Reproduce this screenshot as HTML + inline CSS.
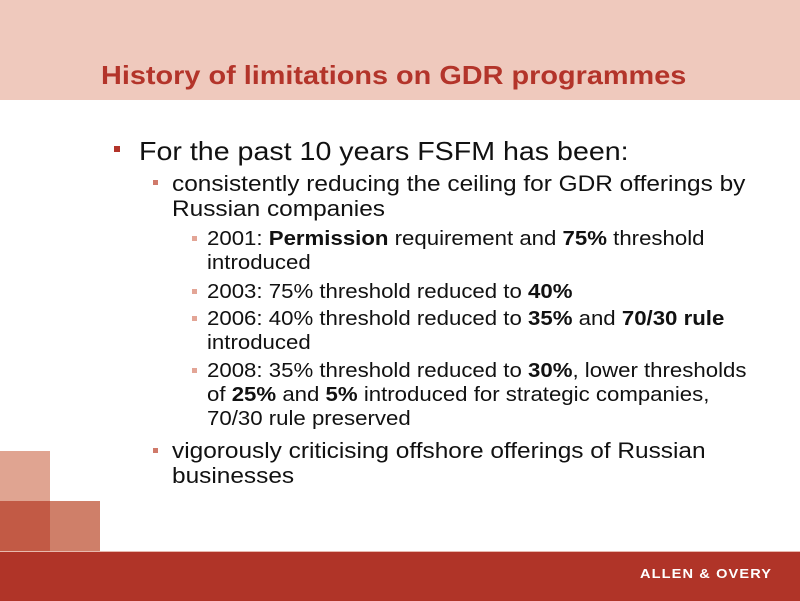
<!DOCTYPE html>
<html><head><meta charset="utf-8"><style>
body{margin:0;width:800px;height:600px;position:relative;overflow:hidden;background:#fff;font-family:"Liberation Sans",Arial,sans-serif;color:#111}
.hdr{position:absolute;left:0;top:0;width:800px;height:100px;background:#efc9bd}
.title{position:absolute;left:101px;top:60px;font-size:26px;font-weight:bold;color:#b3342a;white-space:nowrap;transform:scaleX(1.11);transform-origin:0 0}
.sq{position:absolute;width:50px;height:50px}
.foot{position:absolute;left:0;top:551px;width:800px;height:49px;background:#b03428;border-top:1px solid #e8b8ad}
.logo{position:absolute;left:640px;top:566px;color:#fff;font-size:13px;font-weight:bold;letter-spacing:1px;transform:scaleX(1.12);transform-origin:0 0}
.t{position:absolute;white-space:nowrap;transform:scaleX(1.1);transform-origin:0 0}
.b{position:absolute;background:#b84a3b}
</style></head><body>
<div class="hdr"></div>
<div class="title">History of limitations on GDR programmes</div>
<div class="sq" style="left:0;top:451px;background:#e0a491"></div>
<div class="sq" style="left:0;top:501px;background:#c25a45"></div>
<div class="sq" style="left:50px;top:501px;background:#cf7f69"></div>
<div class="foot"></div>
<div class="logo">ALLEN &amp; OVERY</div>

<div class="b" style="left:114px;top:146px;width:6px;height:6px;background:#b3342a"></div>
<div class="t" style="left:139px;top:136px;font-size:26px;line-height:30px">For the past 10 years FSFM has been:</div>

<div class="b" style="left:153px;top:180px;width:5px;height:5px;background:#d07a6a"></div>
<div class="t" style="left:172px;top:171px;font-size:22.2px;line-height:25px">consistently reducing the ceiling for GDR offerings by<br>Russian companies</div>

<div class="b" style="left:192px;top:236px;width:5px;height:5px;background:#e3a596"></div>
<div class="t" style="left:207px;top:227px;font-size:20.2px;line-height:24px">2001: <b>Permission</b> requirement and <b>75%</b> threshold<br>introduced</div>
<div class="b" style="left:192px;top:289px;width:5px;height:5px;background:#e3a596"></div>
<div class="t" style="left:207px;top:280px;font-size:20.2px;line-height:24px">2003: 75% threshold reduced to <b>40%</b></div>
<div class="b" style="left:192px;top:316px;width:5px;height:5px;background:#e3a596"></div>
<div class="t" style="left:207px;top:307px;font-size:20.2px;line-height:24px">2006: 40% threshold reduced to <b>35%</b> and <b>70/30 rule</b><br>introduced</div>
<div class="b" style="left:192px;top:368px;width:5px;height:5px;background:#e3a596"></div>
<div class="t" style="left:207px;top:359px;font-size:20.2px;line-height:24px">2008: 35% threshold reduced to <b>30%</b>, lower thresholds<br>of <b>25%</b> and <b>5%</b> introduced for strategic companies,<br>70/30 rule preserved</div>

<div class="b" style="left:153px;top:448px;width:5px;height:5px;background:#d07a6a"></div>
<div class="t" style="left:172px;top:438px;font-size:22.2px;line-height:25px">vigorously criticising offshore offerings of Russian<br>businesses</div>
</body></html>
